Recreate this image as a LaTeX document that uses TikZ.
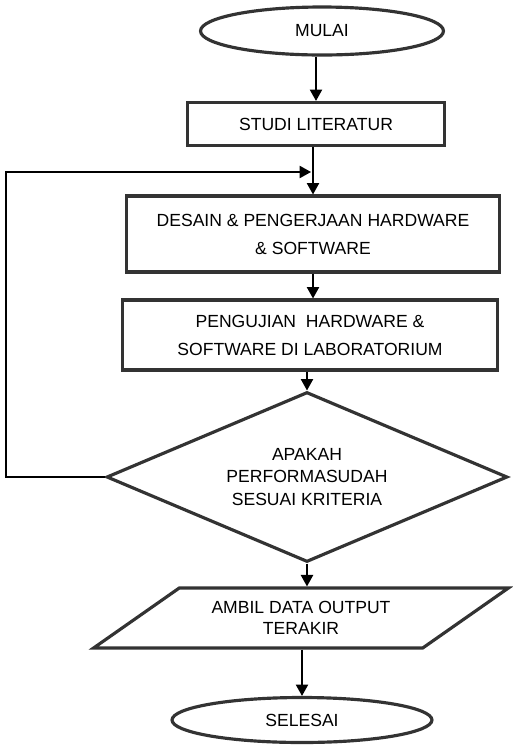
\documentclass[tikz,border=0pt]{standalone}
\usepackage{fontspec}
\setmainfont{Liberation Sans}
\usetikzlibrary{arrows.meta,shapes.geometric}

\begin{document}
\begin{tikzpicture}[x=0.02cm,y=-0.02cm,>={Triangle[width=7pt,length=6.5pt]},
  flow/.style={draw=black!80,line width=1.8pt,align=center,inner sep=0pt,
    font=\fontsize{10}{16}\selectfont},
  terminal/.style={flow,ellipse},
  proses/.style={flow,rectangle},
  keputusan/.style={flow,diamond,aspect=2.4,font=\fontsize{10}{13}\selectfont},
  data/.style={flow,trapezium,trapezium left angle=35,trapezium right angle=145,
    trapezium stretches body,inner ysep=7.6pt,font=\fontsize{10}{12}\selectfont},
  panah/.style={->,line width=0.8pt}]

  \useasboundingbox (0,0) rectangle (512,745);

  \node[terminal,minimum width=4.86cm,minimum height=0.96cm] (mulai) at (322,31) {MULAI};
  \node[proses,minimum width=5.14cm,minimum height=0.86cm] (studi) at (316,124) {STUDI LITERATUR};
  \node[proses,minimum width=7.46cm,minimum height=1.52cm] (desain) at (313,234)
    {DESAIN \& PENGERJAAN HARDWARE\\\& SOFTWARE};
  \node[proses,minimum width=7.5cm,minimum height=1.4cm] (uji) at (310,335)
    {PENGUJIAN\ \ HARDWARE \&\\SOFTWARE DI LABORATORIUM};
  \node[keputusan,minimum width=8.02cm,minimum height=3.4cm] (cek) at (307,477)
    {APAKAH\\PERFORMASUDAH\\SESUAI KRITERIA};
  \node[data,minimum width=8.3cm] (ambil) at (301,618)
    {AMBIL DATA OUTPUT\\TERAKIR};
  \node[terminal,minimum width=5.2cm,minimum height=0.9cm] (selesai) at (302,720) {SELESAI};

  \coordinate (masuk) at (311,172);

  \draw[panah] (studi.north |- mulai.south) -- (studi.north);
  \draw[panah] (desain.north |- studi.south) -- (desain.north);
  \draw[panah] (desain.south) -- (desain.south |- uji.north);
  \draw[panah] (cek.north |- uji.south) -- (cek.north);
  \draw[panah] (cek.south) -- (cek.south |- ambil.north);
  \draw[panah] (selesai.north |- ambil.south) -- (selesai.north);
  % kembali ke desain
  \draw[panah] (cek.west) -- ++(-99,0) |- (masuk);
\end{tikzpicture}
\end{document}
